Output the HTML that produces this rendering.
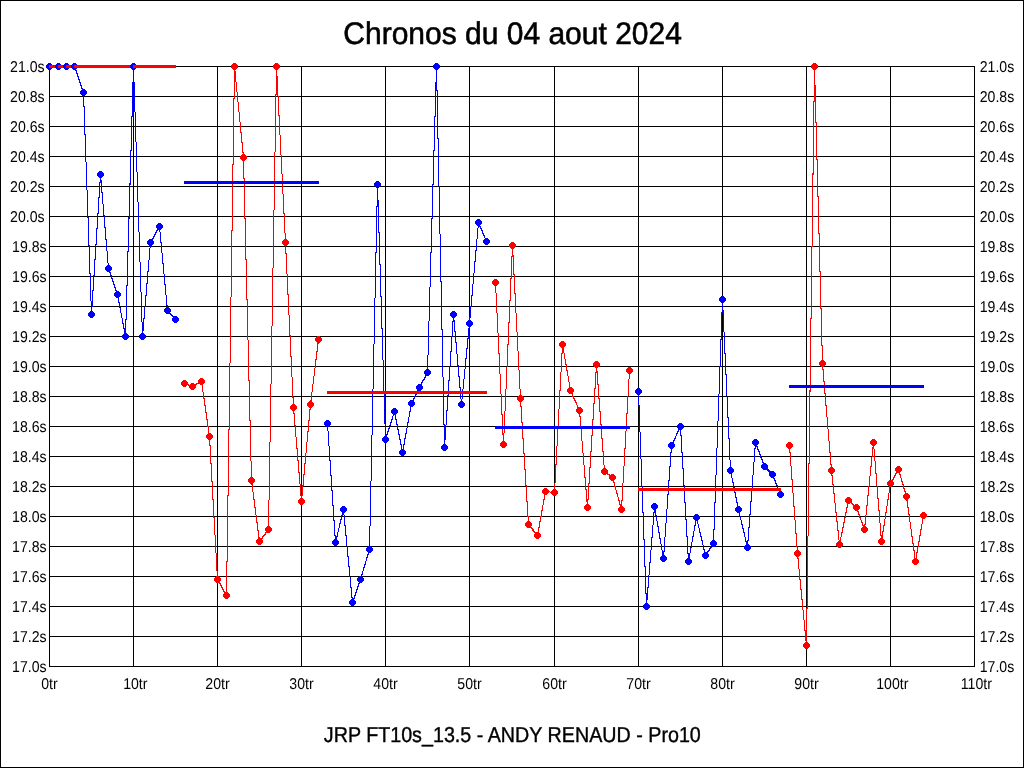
<!DOCTYPE html>
<html><head><meta charset="utf-8"><style>
html,body{margin:0;padding:0;background:#fff;}
body{width:1024px;height:768px;overflow:hidden;position:relative;}
svg{position:absolute;left:0;top:0;will-change:transform;}
text{font-family:"Liberation Sans",sans-serif;fill:#000;text-rendering:geometricPrecision;}
.c{shape-rendering:crispEdges;}
</style></head><body>
<svg width="1024" height="768" viewBox="0 0 1024 768">
<rect class="c" x="0.5" y="0.5" width="1023" height="767" fill="#fff" stroke="#000" stroke-width="1"/>
<text transform="translate(512.6,43.6) scale(1,1.04)" text-anchor="middle" font-size="30" stroke="#000" stroke-width="0.55">Chronos du 04 aout 2024</text>
<text transform="translate(512.3,741.6) scale(0.985,1.08)" text-anchor="middle" font-size="20" stroke="#000" stroke-width="0.35">JRP FT10s_13.5 - ANDY RENAUD - Pro10</text>
<g class="c"><path d="M49 66.5H975M49 96.5H975M49 126.5H975M49 156.5H975M49 186.5H975M49 216.5H975M49 246.5H975M49 276.5H975M49 306.5H975M49 336.5H975M49 366.5H975M49 396.5H975M49 426.5H975M49 456.5H975M49 486.5H975M49 516.5H975M49 546.5H975M49 576.5H975M49 606.5H975M49 636.5H975M49 666.5H975M49.5 66V667M133.5 66V667M217.5 66V667M301.5 66V667M385.5 66V667M469.5 66V667M554.5 66V667M638.5 66V667M722.5 66V667M806.5 66V667M890.5 66V667M974.5 66V667" stroke="#000" stroke-width="1" fill="none"/></g>
<g font-size="15">
<text transform="translate(44.6,71.9) scale(0.94,1.05)" text-anchor="end">21.0s</text><text transform="translate(979.7,71.9) scale(0.94,1.05)">21.0s</text><text transform="translate(44.6,101.9) scale(0.94,1.05)" text-anchor="end">20.8s</text><text transform="translate(979.7,101.9) scale(0.94,1.05)">20.8s</text><text transform="translate(44.6,131.9) scale(0.94,1.05)" text-anchor="end">20.6s</text><text transform="translate(979.7,131.9) scale(0.94,1.05)">20.6s</text><text transform="translate(44.6,161.9) scale(0.94,1.05)" text-anchor="end">20.4s</text><text transform="translate(979.7,161.9) scale(0.94,1.05)">20.4s</text><text transform="translate(44.6,191.9) scale(0.94,1.05)" text-anchor="end">20.2s</text><text transform="translate(979.7,191.9) scale(0.94,1.05)">20.2s</text><text transform="translate(44.6,221.9) scale(0.94,1.05)" text-anchor="end">20.0s</text><text transform="translate(979.7,221.9) scale(0.94,1.05)">20.0s</text><text transform="translate(46.6,251.9) scale(0.94,1.05)" text-anchor="end">19.8s</text><text transform="translate(979.7,251.9) scale(0.94,1.05)">19.8s</text><text transform="translate(46.6,281.9) scale(0.94,1.05)" text-anchor="end">19.6s</text><text transform="translate(979.7,281.9) scale(0.94,1.05)">19.6s</text><text transform="translate(46.6,311.9) scale(0.94,1.05)" text-anchor="end">19.4s</text><text transform="translate(979.7,311.9) scale(0.94,1.05)">19.4s</text><text transform="translate(46.6,341.9) scale(0.94,1.05)" text-anchor="end">19.2s</text><text transform="translate(979.7,341.9) scale(0.94,1.05)">19.2s</text><text transform="translate(46.6,371.9) scale(0.94,1.05)" text-anchor="end">19.0s</text><text transform="translate(979.7,371.9) scale(0.94,1.05)">19.0s</text><text transform="translate(46.6,401.9) scale(0.94,1.05)" text-anchor="end">18.8s</text><text transform="translate(979.7,401.9) scale(0.94,1.05)">18.8s</text><text transform="translate(46.6,431.9) scale(0.94,1.05)" text-anchor="end">18.6s</text><text transform="translate(979.7,431.9) scale(0.94,1.05)">18.6s</text><text transform="translate(46.6,461.9) scale(0.94,1.05)" text-anchor="end">18.4s</text><text transform="translate(979.7,461.9) scale(0.94,1.05)">18.4s</text><text transform="translate(46.6,491.9) scale(0.94,1.05)" text-anchor="end">18.2s</text><text transform="translate(979.7,491.9) scale(0.94,1.05)">18.2s</text><text transform="translate(46.6,521.9) scale(0.94,1.05)" text-anchor="end">18.0s</text><text transform="translate(979.7,521.9) scale(0.94,1.05)">18.0s</text><text transform="translate(46.6,551.9) scale(0.94,1.05)" text-anchor="end">17.8s</text><text transform="translate(979.7,551.9) scale(0.94,1.05)">17.8s</text><text transform="translate(46.6,581.9) scale(0.94,1.05)" text-anchor="end">17.6s</text><text transform="translate(979.7,581.9) scale(0.94,1.05)">17.6s</text><text transform="translate(46.6,611.9) scale(0.94,1.05)" text-anchor="end">17.4s</text><text transform="translate(979.7,611.9) scale(0.94,1.05)">17.4s</text><text transform="translate(46.6,641.9) scale(0.94,1.05)" text-anchor="end">17.2s</text><text transform="translate(979.7,641.9) scale(0.94,1.05)">17.2s</text><text transform="translate(46.6,671.9) scale(0.94,1.05)" text-anchor="end">17.0s</text><text transform="translate(979.7,671.9) scale(0.94,1.05)">17.0s</text><text transform="translate(49.5,689) scale(0.94,1.05)" text-anchor="middle">0tr</text><text transform="translate(135.3,689) scale(0.94,1.05)" text-anchor="middle">10tr</text><text transform="translate(217.5,689) scale(0.94,1.05)" text-anchor="middle">20tr</text><text transform="translate(301.5,689) scale(0.94,1.05)" text-anchor="middle">30tr</text><text transform="translate(385.5,689) scale(0.94,1.05)" text-anchor="middle">40tr</text><text transform="translate(469.5,689) scale(0.94,1.05)" text-anchor="middle">50tr</text><text transform="translate(554.5,689) scale(0.94,1.05)" text-anchor="middle">60tr</text><text transform="translate(638.5,689) scale(0.94,1.05)" text-anchor="middle">70tr</text><text transform="translate(722.5,689) scale(0.94,1.05)" text-anchor="middle">80tr</text><text transform="translate(806.5,689) scale(0.94,1.05)" text-anchor="middle">90tr</text><text transform="translate(892.3,689) scale(0.94,1.05)" text-anchor="middle">100tr</text><text transform="translate(976.3,689) scale(0.94,1.05)" text-anchor="middle">110tr</text>
</g>
<g class="c">
<path d="M49.5 66.5L58.5 66.5" stroke="#0000ff" stroke-width="1.00" fill="none"/><path d="M58.5 66.5L66.5 66.5" stroke="#0000ff" stroke-width="1.00" fill="none"/><path d="M66.5 66.5L74.5 66.5" stroke="#0000ff" stroke-width="1.00" fill="none"/><path d="M74.5 66.5L83.5 92.5" stroke="#0000ff" stroke-width="1.21" fill="none"/><path d="M83.5 92.5L91.5 314.5" stroke="#0000ff" stroke-width="1.02" fill="none"/><path d="M91.5 314.5L100.5 174.5" stroke="#0000ff" stroke-width="1.04" fill="none"/><path d="M100.5 174.5L108.5 268.5" stroke="#0000ff" stroke-width="1.05" fill="none"/><path d="M108.5 268.5L117.5 294.5" stroke="#0000ff" stroke-width="1.21" fill="none"/><path d="M117.5 294.5L125.5 336.5" stroke="#0000ff" stroke-width="1.11" fill="none"/><path d="M125.5 336.5L133.5 66.5" stroke="#0000ff" stroke-width="1.02" fill="none"/><path d="M133.5 66.5L142.5 336.5" stroke="#0000ff" stroke-width="1.02" fill="none"/><path d="M142.5 336.5L150.5 242.5" stroke="#0000ff" stroke-width="1.05" fill="none"/><path d="M150.5 242.5L159.5 226.5" stroke="#0000ff" stroke-width="1.34" fill="none"/><path d="M159.5 226.5L167.5 310.5" stroke="#0000ff" stroke-width="1.06" fill="none"/><path d="M167.5 310.5L175.5 319.5" stroke="#0000ff" stroke-width="1.53" fill="none"/><path d="M184.5 383.5L192.5 386.5" stroke="#ff0000" stroke-width="1.23" fill="none"/><path d="M192.5 386.5L201.5 381.5" stroke="#ff0000" stroke-width="1.33" fill="none"/><path d="M201.5 381.5L209.5 436.5" stroke="#ff0000" stroke-width="1.09" fill="none"/><path d="M209.5 436.5L217.5 579.5" stroke="#ff0000" stroke-width="1.03" fill="none"/><path d="M217.5 579.5L226.5 595.5" stroke="#ff0000" stroke-width="1.34" fill="none"/><path d="M226.5 595.5L234.5 66.5" stroke="#ff0000" stroke-width="1.01" fill="none"/><path d="M234.5 66.5L243.5 157.5" stroke="#ff0000" stroke-width="1.06" fill="none"/><path d="M243.5 157.5L251.5 480.5" stroke="#ff0000" stroke-width="1.01" fill="none"/><path d="M251.5 480.5L259.5 541.5" stroke="#ff0000" stroke-width="1.08" fill="none"/><path d="M259.5 541.5L268.5 529.5" stroke="#ff0000" stroke-width="1.45" fill="none"/><path d="M268.5 529.5L276.5 66.5" stroke="#ff0000" stroke-width="1.01" fill="none"/><path d="M276.5 66.5L285.5 242.5" stroke="#ff0000" stroke-width="1.03" fill="none"/><path d="M285.5 242.5L293.5 407.5" stroke="#ff0000" stroke-width="1.03" fill="none"/><path d="M293.5 407.5L301.5 501.5" stroke="#ff0000" stroke-width="1.05" fill="none"/><path d="M301.5 501.5L310.5 404.5" stroke="#ff0000" stroke-width="1.06" fill="none"/><path d="M310.5 404.5L318.5 339.5" stroke="#ff0000" stroke-width="1.07" fill="none"/><path d="M327.5 423.5L335.5 542.5" stroke="#0000ff" stroke-width="1.04" fill="none"/><path d="M335.5 542.5L343.5 509.5" stroke="#0000ff" stroke-width="1.15" fill="none"/><path d="M343.5 509.5L352.5 602.5" stroke="#0000ff" stroke-width="1.06" fill="none"/><path d="M352.5 602.5L360.5 579.5" stroke="#0000ff" stroke-width="1.21" fill="none"/><path d="M360.5 579.5L369.5 549.5" stroke="#0000ff" stroke-width="1.18" fill="none"/><path d="M369.5 549.5L377.5 184.5" stroke="#0000ff" stroke-width="1.01" fill="none"/><path d="M377.5 184.5L385.5 439.5" stroke="#0000ff" stroke-width="1.02" fill="none"/><path d="M385.5 439.5L394.5 411.5" stroke="#0000ff" stroke-width="1.19" fill="none"/><path d="M394.5 411.5L402.5 452.5" stroke="#0000ff" stroke-width="1.12" fill="none"/><path d="M402.5 452.5L411.5 403.5" stroke="#0000ff" stroke-width="1.11" fill="none"/><path d="M411.5 403.5L419.5 387.5" stroke="#0000ff" stroke-width="1.30" fill="none"/><path d="M419.5 387.5L427.5 372.5" stroke="#0000ff" stroke-width="1.32" fill="none"/><path d="M427.5 372.5L436.5 66.5" stroke="#0000ff" stroke-width="1.02" fill="none"/><path d="M436.5 66.5L444.5 447.5" stroke="#0000ff" stroke-width="1.01" fill="none"/><path d="M444.5 447.5L453.5 314.5" stroke="#0000ff" stroke-width="1.04" fill="none"/><path d="M453.5 314.5L461.5 404.5" stroke="#0000ff" stroke-width="1.05" fill="none"/><path d="M461.5 404.5L469.5 323.5" stroke="#0000ff" stroke-width="1.06" fill="none"/><path d="M469.5 323.5L478.5 222.5" stroke="#0000ff" stroke-width="1.05" fill="none"/><path d="M478.5 222.5L486.5 241.5" stroke="#0000ff" stroke-width="1.25" fill="none"/><path d="M495.5 282.5L503.5 444.5" stroke="#ff0000" stroke-width="1.03" fill="none"/><path d="M503.5 444.5L512.5 245.5" stroke="#ff0000" stroke-width="1.03" fill="none"/><path d="M512.5 245.5L520.5 398.5" stroke="#ff0000" stroke-width="1.03" fill="none"/><path d="M520.5 398.5L528.5 524.5" stroke="#ff0000" stroke-width="1.04" fill="none"/><path d="M528.5 524.5L537.5 535.5" stroke="#ff0000" stroke-width="1.49" fill="none"/><path d="M537.5 535.5L545.5 491.5" stroke="#ff0000" stroke-width="1.11" fill="none"/><path d="M545.5 491.5L554.5 492.5" stroke="#ff0000" stroke-width="1.07" fill="none"/><path d="M554.5 492.5L562.5 344.5" stroke="#ff0000" stroke-width="1.03" fill="none"/><path d="M562.5 344.5L570.5 390.5" stroke="#ff0000" stroke-width="1.10" fill="none"/><path d="M570.5 390.5L579.5 410.5" stroke="#ff0000" stroke-width="1.27" fill="none"/><path d="M579.5 410.5L587.5 507.5" stroke="#ff0000" stroke-width="1.05" fill="none"/><path d="M587.5 507.5L596.5 364.5" stroke="#ff0000" stroke-width="1.04" fill="none"/><path d="M596.5 364.5L604.5 471.5" stroke="#ff0000" stroke-width="1.04" fill="none"/><path d="M604.5 471.5L612.5 477.5" stroke="#ff0000" stroke-width="1.45" fill="none"/><path d="M612.5 477.5L621.5 509.5" stroke="#ff0000" stroke-width="1.17" fill="none"/><path d="M621.5 509.5L629.5 370.5" stroke="#ff0000" stroke-width="1.03" fill="none"/><path d="M638.5 391.5L646.5 606.5" stroke="#0000ff" stroke-width="1.02" fill="none"/><path d="M646.5 606.5L654.5 506.5" stroke="#0000ff" stroke-width="1.05" fill="none"/><path d="M654.5 506.5L663.5 558.5" stroke="#0000ff" stroke-width="1.10" fill="none"/><path d="M663.5 558.5L671.5 445.5" stroke="#0000ff" stroke-width="1.04" fill="none"/><path d="M671.5 445.5L680.5 426.5" stroke="#0000ff" stroke-width="1.28" fill="none"/><path d="M680.5 426.5L688.5 561.5" stroke="#0000ff" stroke-width="1.04" fill="none"/><path d="M688.5 561.5L696.5 517.5" stroke="#0000ff" stroke-width="1.11" fill="none"/><path d="M696.5 517.5L705.5 555.5" stroke="#0000ff" stroke-width="1.14" fill="none"/><path d="M705.5 555.5L713.5 543.5" stroke="#0000ff" stroke-width="1.40" fill="none"/><path d="M713.5 543.5L722.5 299.5" stroke="#0000ff" stroke-width="1.02" fill="none"/><path d="M722.5 299.5L730.5 470.5" stroke="#0000ff" stroke-width="1.03" fill="none"/><path d="M730.5 470.5L738.5 509.5" stroke="#0000ff" stroke-width="1.12" fill="none"/><path d="M738.5 509.5L747.5 547.5" stroke="#0000ff" stroke-width="1.14" fill="none"/><path d="M747.5 547.5L755.5 442.5" stroke="#0000ff" stroke-width="1.05" fill="none"/><path d="M755.5 442.5L764.5 466.5" stroke="#0000ff" stroke-width="1.23" fill="none"/><path d="M764.5 466.5L772.5 474.5" stroke="#0000ff" stroke-width="1.60" fill="none"/><path d="M772.5 474.5L780.5 494.5" stroke="#0000ff" stroke-width="1.24" fill="none"/><path d="M789.5 445.5L797.5 553.5" stroke="#ff0000" stroke-width="1.04" fill="none"/><path d="M797.5 553.5L806.5 645.5" stroke="#ff0000" stroke-width="1.06" fill="none"/><path d="M806.5 645.5L814.5 66.5" stroke="#ff0000" stroke-width="1.01" fill="none"/><path d="M814.5 66.5L822.5 363.5" stroke="#ff0000" stroke-width="1.02" fill="none"/><path d="M822.5 363.5L831.5 470.5" stroke="#ff0000" stroke-width="1.05" fill="none"/><path d="M831.5 470.5L839.5 544.5" stroke="#ff0000" stroke-width="1.06" fill="none"/><path d="M839.5 544.5L848.5 500.5" stroke="#ff0000" stroke-width="1.12" fill="none"/><path d="M848.5 500.5L856.5 507.5" stroke="#ff0000" stroke-width="1.52" fill="none"/><path d="M856.5 507.5L864.5 529.5" stroke="#ff0000" stroke-width="1.22" fill="none"/><path d="M864.5 529.5L873.5 442.5" stroke="#ff0000" stroke-width="1.06" fill="none"/><path d="M873.5 442.5L881.5 541.5" stroke="#ff0000" stroke-width="1.05" fill="none"/><path d="M881.5 541.5L890.5 483.5" stroke="#ff0000" stroke-width="1.09" fill="none"/><path d="M890.5 483.5L898.5 469.5" stroke="#ff0000" stroke-width="1.34" fill="none"/><path d="M898.5 469.5L906.5 496.5" stroke="#ff0000" stroke-width="1.18" fill="none"/><path d="M906.5 496.5L915.5 561.5" stroke="#ff0000" stroke-width="1.08" fill="none"/><path d="M915.5 561.5L923.5 515.5" stroke="#ff0000" stroke-width="1.10" fill="none"/>
<path d="M46 65h7v3h-7z M48 63h3v7h-3z M47 64h5v5h-5zM55 65h7v3h-7z M57 63h3v7h-3z M56 64h5v5h-5zM63 65h7v3h-7z M65 63h3v7h-3z M64 64h5v5h-5zM71 65h7v3h-7z M73 63h3v7h-3z M72 64h5v5h-5zM80 91h7v3h-7z M82 89h3v7h-3z M81 90h5v5h-5zM88 313h7v3h-7z M90 311h3v7h-3z M89 312h5v5h-5zM97 173h7v3h-7z M99 171h3v7h-3z M98 172h5v5h-5zM105 267h7v3h-7z M107 265h3v7h-3z M106 266h5v5h-5zM114 293h7v3h-7z M116 291h3v7h-3z M115 292h5v5h-5zM122 335h7v3h-7z M124 333h3v7h-3z M123 334h5v5h-5zM130 65h7v3h-7z M132 63h3v7h-3z M131 64h5v5h-5zM139 335h7v3h-7z M141 333h3v7h-3z M140 334h5v5h-5zM147 241h7v3h-7z M149 239h3v7h-3z M148 240h5v5h-5zM156 225h7v3h-7z M158 223h3v7h-3z M157 224h5v5h-5zM164 309h7v3h-7z M166 307h3v7h-3z M165 308h5v5h-5zM172 318h7v3h-7z M174 316h3v7h-3z M173 317h5v5h-5z" fill="#0000ff"/><path d="M181 382h7v3h-7z M183 380h3v7h-3z M182 381h5v5h-5zM189 385h7v3h-7z M191 383h3v7h-3z M190 384h5v5h-5zM198 380h7v3h-7z M200 378h3v7h-3z M199 379h5v5h-5zM206 435h7v3h-7z M208 433h3v7h-3z M207 434h5v5h-5zM214 578h7v3h-7z M216 576h3v7h-3z M215 577h5v5h-5zM223 594h7v3h-7z M225 592h3v7h-3z M224 593h5v5h-5zM231 65h7v3h-7z M233 63h3v7h-3z M232 64h5v5h-5zM240 156h7v3h-7z M242 154h3v7h-3z M241 155h5v5h-5zM248 479h7v3h-7z M250 477h3v7h-3z M249 478h5v5h-5zM256 540h7v3h-7z M258 538h3v7h-3z M257 539h5v5h-5zM265 528h7v3h-7z M267 526h3v7h-3z M266 527h5v5h-5zM273 65h7v3h-7z M275 63h3v7h-3z M274 64h5v5h-5zM282 241h7v3h-7z M284 239h3v7h-3z M283 240h5v5h-5zM290 406h7v3h-7z M292 404h3v7h-3z M291 405h5v5h-5zM298 500h7v3h-7z M300 498h3v7h-3z M299 499h5v5h-5zM307 403h7v3h-7z M309 401h3v7h-3z M308 402h5v5h-5zM315 338h7v3h-7z M317 336h3v7h-3z M316 337h5v5h-5z" fill="#ff0000"/><path d="M324 422h7v3h-7z M326 420h3v7h-3z M325 421h5v5h-5zM332 541h7v3h-7z M334 539h3v7h-3z M333 540h5v5h-5zM340 508h7v3h-7z M342 506h3v7h-3z M341 507h5v5h-5zM349 601h7v3h-7z M351 599h3v7h-3z M350 600h5v5h-5zM357 578h7v3h-7z M359 576h3v7h-3z M358 577h5v5h-5zM366 548h7v3h-7z M368 546h3v7h-3z M367 547h5v5h-5zM374 183h7v3h-7z M376 181h3v7h-3z M375 182h5v5h-5zM382 438h7v3h-7z M384 436h3v7h-3z M383 437h5v5h-5zM391 410h7v3h-7z M393 408h3v7h-3z M392 409h5v5h-5zM399 451h7v3h-7z M401 449h3v7h-3z M400 450h5v5h-5zM408 402h7v3h-7z M410 400h3v7h-3z M409 401h5v5h-5zM416 386h7v3h-7z M418 384h3v7h-3z M417 385h5v5h-5zM424 371h7v3h-7z M426 369h3v7h-3z M425 370h5v5h-5zM433 65h7v3h-7z M435 63h3v7h-3z M434 64h5v5h-5zM441 446h7v3h-7z M443 444h3v7h-3z M442 445h5v5h-5zM450 313h7v3h-7z M452 311h3v7h-3z M451 312h5v5h-5zM458 403h7v3h-7z M460 401h3v7h-3z M459 402h5v5h-5zM466 322h7v3h-7z M468 320h3v7h-3z M467 321h5v5h-5zM475 221h7v3h-7z M477 219h3v7h-3z M476 220h5v5h-5zM483 240h7v3h-7z M485 238h3v7h-3z M484 239h5v5h-5z" fill="#0000ff"/><path d="M492 281h7v3h-7z M494 279h3v7h-3z M493 280h5v5h-5zM500 443h7v3h-7z M502 441h3v7h-3z M501 442h5v5h-5zM509 244h7v3h-7z M511 242h3v7h-3z M510 243h5v5h-5zM517 397h7v3h-7z M519 395h3v7h-3z M518 396h5v5h-5zM525 523h7v3h-7z M527 521h3v7h-3z M526 522h5v5h-5zM534 534h7v3h-7z M536 532h3v7h-3z M535 533h5v5h-5zM542 490h7v3h-7z M544 488h3v7h-3z M543 489h5v5h-5zM551 491h7v3h-7z M553 489h3v7h-3z M552 490h5v5h-5zM559 343h7v3h-7z M561 341h3v7h-3z M560 342h5v5h-5zM567 389h7v3h-7z M569 387h3v7h-3z M568 388h5v5h-5zM576 409h7v3h-7z M578 407h3v7h-3z M577 408h5v5h-5zM584 506h7v3h-7z M586 504h3v7h-3z M585 505h5v5h-5zM593 363h7v3h-7z M595 361h3v7h-3z M594 362h5v5h-5zM601 470h7v3h-7z M603 468h3v7h-3z M602 469h5v5h-5zM609 476h7v3h-7z M611 474h3v7h-3z M610 475h5v5h-5zM618 508h7v3h-7z M620 506h3v7h-3z M619 507h5v5h-5zM626 369h7v3h-7z M628 367h3v7h-3z M627 368h5v5h-5z" fill="#ff0000"/><path d="M635 390h7v3h-7z M637 388h3v7h-3z M636 389h5v5h-5zM643 605h7v3h-7z M645 603h3v7h-3z M644 604h5v5h-5zM651 505h7v3h-7z M653 503h3v7h-3z M652 504h5v5h-5zM660 557h7v3h-7z M662 555h3v7h-3z M661 556h5v5h-5zM668 444h7v3h-7z M670 442h3v7h-3z M669 443h5v5h-5zM677 425h7v3h-7z M679 423h3v7h-3z M678 424h5v5h-5zM685 560h7v3h-7z M687 558h3v7h-3z M686 559h5v5h-5zM693 516h7v3h-7z M695 514h3v7h-3z M694 515h5v5h-5zM702 554h7v3h-7z M704 552h3v7h-3z M703 553h5v5h-5zM710 542h7v3h-7z M712 540h3v7h-3z M711 541h5v5h-5zM719 298h7v3h-7z M721 296h3v7h-3z M720 297h5v5h-5zM727 469h7v3h-7z M729 467h3v7h-3z M728 468h5v5h-5zM735 508h7v3h-7z M737 506h3v7h-3z M736 507h5v5h-5zM744 546h7v3h-7z M746 544h3v7h-3z M745 545h5v5h-5zM752 441h7v3h-7z M754 439h3v7h-3z M753 440h5v5h-5zM761 465h7v3h-7z M763 463h3v7h-3z M762 464h5v5h-5zM769 473h7v3h-7z M771 471h3v7h-3z M770 472h5v5h-5zM777 493h7v3h-7z M779 491h3v7h-3z M778 492h5v5h-5z" fill="#0000ff"/><path d="M786 444h7v3h-7z M788 442h3v7h-3z M787 443h5v5h-5zM794 552h7v3h-7z M796 550h3v7h-3z M795 551h5v5h-5zM803 644h7v3h-7z M805 642h3v7h-3z M804 643h5v5h-5zM811 65h7v3h-7z M813 63h3v7h-3z M812 64h5v5h-5zM819 362h7v3h-7z M821 360h3v7h-3z M820 361h5v5h-5zM828 469h7v3h-7z M830 467h3v7h-3z M829 468h5v5h-5zM836 543h7v3h-7z M838 541h3v7h-3z M837 542h5v5h-5zM845 499h7v3h-7z M847 497h3v7h-3z M846 498h5v5h-5zM853 506h7v3h-7z M855 504h3v7h-3z M854 505h5v5h-5zM861 528h7v3h-7z M863 526h3v7h-3z M862 527h5v5h-5zM870 441h7v3h-7z M872 439h3v7h-3z M871 440h5v5h-5zM878 540h7v3h-7z M880 538h3v7h-3z M879 539h5v5h-5zM887 482h7v3h-7z M889 480h3v7h-3z M888 481h5v5h-5zM895 468h7v3h-7z M897 466h3v7h-3z M896 467h5v5h-5zM903 495h7v3h-7z M905 493h3v7h-3z M904 494h5v5h-5zM912 560h7v3h-7z M914 558h3v7h-3z M913 559h5v5h-5zM920 514h7v3h-7z M922 512h3v7h-3z M921 513h5v5h-5z" fill="#ff0000"/>
<rect x="49" y="65" width="127" height="3" fill="#ff0000"/><rect x="184" y="181" width="135" height="3" fill="#0000ff"/><rect x="327" y="391" width="160" height="3" fill="#ff0000"/><rect x="495" y="426" width="135" height="3" fill="#0000ff"/><rect x="638" y="488" width="143" height="3" fill="#ff0000"/><rect x="789" y="385" width="135" height="3" fill="#0000ff"/><rect x="46" y="65" width="3" height="3" fill="#0000ff"/><rect x="55" y="65" width="3" height="3" fill="#0000ff"/><rect x="63" y="65" width="3" height="3" fill="#0000ff"/><rect x="71" y="65" width="3" height="3" fill="#0000ff"/><rect x="130" y="65" width="3" height="3" fill="#0000ff"/><rect x="231" y="65" width="3" height="3" fill="#ff0000"/><rect x="273" y="65" width="3" height="3" fill="#ff0000"/><rect x="433" y="65" width="3" height="3" fill="#0000ff"/><rect x="811" y="65" width="3" height="3" fill="#ff0000"/>
</g>
</svg>
</body></html>
